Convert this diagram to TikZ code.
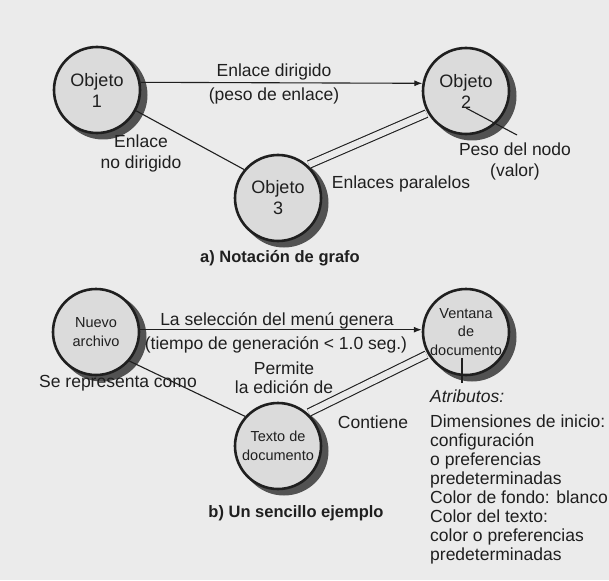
\documentclass[tikz,border=0pt]{standalone}
\usepackage{fontspec}
\setmainfont{Liberation Sans}
\usetikzlibrary{arrows.meta}
\definecolor{paper}{gray}{0.92}
\definecolor{disk}{gray}{0.86}
\definecolor{ink}{gray}{0.12}
\definecolor{shade}{gray}{0.32}

\begin{document}
\begin{tikzpicture}[x=1pt,y=-1pt,
  obj/.style={circle,draw=ink,line width=2.6pt,fill=disk,minimum size=86pt,inner sep=0pt,align=center,text=ink},
  objshadow/.style={fill=shade},
  bigtxt/.style={font=\fontsize{18}{21}\selectfont},
  smalltxt/.style={font=\fontsize{14.5}{18.5}\selectfont},
  lbl/.style={font=\fontsize{17.5}{20.5}\selectfont,text=ink,inner sep=0pt,anchor=north,align=center},
  caption/.style={font=\fontsize{16.5}{20}\selectfont\bfseries,text=ink,inner sep=0pt,anchor=north},
  link/.style={draw=ink,line width=1.1pt},
  parlink/.style={draw=ink,line width=1.1pt,double=paper,double distance=6.5pt,shorten <=1.3pt,shorten >=1.3pt}]
\fill[paper] (0,0) rectangle (609,580);
\useasboundingbox (0,0) rectangle (609,580);

% a) graph notation
\foreach \x/\y/\n/\t in {97/90/o1/1, 466/91/o2/2, 278/198/o3/3}{
  \fill[objshadow] (\x+6,\y+5) circle[radius=44.5pt];
  \node[obj,bigtxt] (\n) at (\x,\y) {Objeto\\\t};
}
\draw[link,-{Latex[length=8pt,width=6pt]}] (o1.10) -- (o2.170);
\draw[link] (o1.-28) -- (o3.140);
\draw[parlink] (o3.48) -- (o2.210);
\coordinate (pesoend) at (517,135);
\draw[link] ([yshift=-17pt]o2.center) -- (pesoend);

\node[lbl] (ldir) at (274,64) {Enlace dirigido};
\node[lbl] (lpeso) at (274,88) {(peso de enlace)};
\node[lbl] (lnodir) at (141,135) {Enlace\\no dirigido};
\node[lbl] (lpar) at (401,176) {Enlaces paralelos};
\node[lbl] (lnodo) at (515,143) {Peso del nodo\\(valor)};
\node[caption] (capa) at (280,250) {a) Notación de grafo};

% b) a simple example
\foreach \x/\y/\n/\t in {96/332/nuevo/Nuevo\\archivo, 466/332/ventana/Ventana\\de\\documento, 278/446/texto/Texto de\\documento}{
  \fill[objshadow] (\x+6,\y+5) circle[radius=44.5pt];
  \node[obj,smalltxt] (\n) at (\x,\y) {\t};
}
\draw[link,-{Latex[length=8pt,width=6pt]}] (nuevo.3) -- (ventana.177);
\draw[link] (nuevo.-41) -- (texto.138);
\draw[parlink] (texto.48) -- (ventana.210);
\coordinate (attrend) at (462,383);
\draw[link] ([xshift=-4pt,yshift=-26pt]ventana.center) -- (attrend);

\node[lbl] (lsel) at (277,312) {La selección del menú genera};
\node[lbl] (ltiempo) at (276,336) {(tiempo de generación < 1.0 seg.)};
\node[lbl,font=\fontsize{17.5}{19}\selectfont] (ledit) at (284,362) {Permite\\la edición de};
\node[lbl] (lrep) at (118,375) {Se representa como};
\node[lbl] (lcont) at (373,416) {Contiene};
\node[caption] (capb) at (296,505) {b) Un sencillo ejemplo};
\node[lbl,anchor=north west,align=left,font=\fontsize{17.5}{19}\selectfont] (attr) at (430,390)
  {\textit{Atributos:}\\[6pt]
   Dimensiones de inicio:\\
   configuración\\
   o preferencias\\
   predeterminadas\\
   Color de fondo: blanco\\
   Color del texto:\\
   color o preferencias\\
   predeterminadas};
\end{tikzpicture}
\end{document}
